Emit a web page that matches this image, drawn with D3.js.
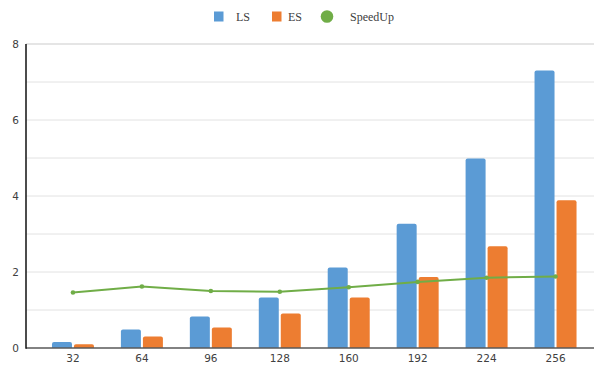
<!DOCTYPE html>
<html>
<head>
<meta charset="utf-8">
<script src="https://cdn.jsdelivr.net/npm/d3@7"></script>
<style>
  html, body { margin: 0; padding: 0; background: #fff; }
  svg { display: block; }
</style>
</head>
<body>
<svg id="chart" width="594" height="367"></svg>
<script>
// Block sizes (x axis) and timings per series
const categories = ["32", "64", "96", "128", "160", "192", "224", "256"];
const lsValues = [0.16, 0.49, 0.83, 1.33, 2.12, 3.27, 4.99, 7.30];
const esValues = [0.10, 0.30, 0.54, 0.91, 1.33, 1.87, 2.68, 3.89];
const speedUp  = [1.46, 1.62, 1.50, 1.48, 1.60, 1.74, 1.85, 1.88];
const seriesNames = ["LS", "ES"];
const yTicks = [0, 2, 4, 6, 8];
const yGrid = [1, 2, 3, 4, 5, 6, 7, 8];

const colors = { LS: "#5b9bd5", ES: "#ed7d31", SpeedUp: "#70ad47" };

const svg = d3.select("#chart");
const plotLeft = 26, plotRight = 594, plotTop = 44, plotBottom = 348;

const x0 = d3.scaleBand().domain(categories).range([38.5, 590]).padding(0);
const x1 = d3.scaleBand().domain(seriesNames)
  .range([(x0.bandwidth() - 42) / 2, (x0.bandwidth() + 42) / 2])
  .paddingInner(2 / 22);
const y = d3.scaleLinear().domain([0, 8]).range([plotBottom, plotTop]);

// Horizontal gridlines
svg.append("g").selectAll("line").data(yGrid).join("line")
  .attr("x1", plotLeft).attr("x2", plotRight)
  .attr("y1", d => y(d)).attr("y2", d => y(d))
  .attr("stroke", d => d === 8 ? "#dcdcdc" : "#e2e2e2")
  .attr("stroke-width", d => d === 8 ? 1.5 : 1);

// Y tick labels
const yAxis = svg.append("g")
  .attr("transform", `translate(${plotLeft},0)`)
  .call(d3.axisLeft(y).tickValues(yTicks).tickSize(0).tickPadding(7).tickFormat(d3.format("d")));
yAxis.select(".domain").remove();
yAxis.selectAll("text")
  .attr("font-family", "DejaVu Sans, sans-serif")
  .attr("font-size", 10.5)
  .attr("fill", "#404040");

// Bars with slightly rounded tops
function barPath(x, yTop, w, yBase, r) {
  const h = yBase - yTop;
  const rr = Math.min(r, h / 2, w / 2);
  return `M${x},${yBase}V${yTop + rr}Q${x},${yTop} ${x + rr},${yTop}` +
         `H${x + w - rr}Q${x + w},${yTop} ${x + w},${yTop + rr}V${yBase}Z`;
}

const rows = categories.map((c, i) => ({ cat: c, LS: lsValues[i], ES: esValues[i] }));
const groups = svg.append("g").selectAll("g").data(rows).join("g")
  .attr("transform", d => `translate(${x0(d.cat)},0)`);
groups.selectAll("path").data(d => seriesNames.map(k => ({ key: k, value: d[k] }))).join("path")
  .attr("d", d => barPath(x1(d.key), y(d.value), x1.bandwidth(), y(0), 2))
  .attr("fill", d => colors[d.key]);

// SpeedUp line
const cx = c => x0(c) + x0.bandwidth() / 2;
const line = d3.line().x((d, i) => cx(categories[i])).y(d => y(d));
svg.append("path").datum(speedUp)
  .attr("d", line)
  .attr("fill", "none")
  .attr("stroke", colors.SpeedUp)
  .attr("stroke-width", 2);
svg.append("g").selectAll("circle").data(speedUp).join("circle")
  .attr("cx", (d, i) => cx(categories[i]))
  .attr("cy", d => y(d))
  .attr("r", 2.3)
  .attr("fill", colors.SpeedUp);

// Axis lines
svg.append("line")
  .attr("x1", plotLeft).attr("x2", plotRight).attr("y1", y(0)).attr("y2", y(0))
  .attr("stroke", "#595959").attr("stroke-width", 1.5);
svg.append("line")
  .attr("x1", plotLeft).attr("x2", plotLeft).attr("y1", plotTop).attr("y2", y(0) + 0.75)
  .attr("stroke", "#111").attr("stroke-width", 1.5);

// X tick labels
const xAxis = svg.append("g")
  .attr("transform", `translate(0,${y(0)})`)
  .call(d3.axisBottom(x0).tickSize(0).tickPadding(7));
xAxis.select(".domain").remove();
xAxis.selectAll("text")
  .attr("font-family", "DejaVu Sans, sans-serif")
  .attr("font-size", 10.5)
  .attr("fill", "#404040");

// Legend
const legend = svg.append("g")
  .attr("font-family", "Liberation Serif, serif")
  .attr("font-size", 12)
  .attr("fill", "#404040");
const legendItems = [
  { name: "LS", x: 214, tx: 236, shape: "rect" },
  { name: "ES", x: 272, tx: 288, shape: "rect" },
  { name: "SpeedUp", x: 327, tx: 350, shape: "circle" }
];
legendItems.forEach(it => {
  if (it.shape === "rect") {
    legend.append("rect").attr("x", it.x).attr("y", 11.5).attr("width", 9.5).attr("height", 10)
      .attr("fill", colors[it.name]);
  } else {
    legend.append("circle").attr("cx", it.x).attr("cy", 16.5).attr("r", 6.3)
      .attr("fill", colors[it.name]);
  }
  legend.append("text").attr("x", it.tx).attr("y", 21.3).text(it.name);
});
</script>
</body>
</html>
